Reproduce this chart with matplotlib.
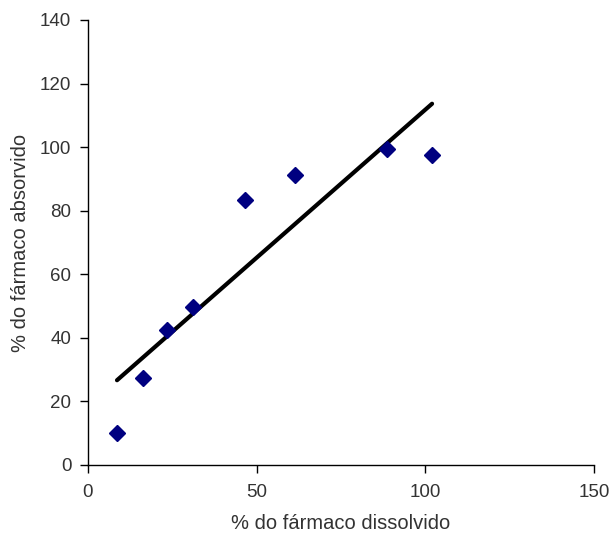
import numpy as np
import matplotlib.pyplot as plt

plt.rcParams['font.family'] = ['Liberation Sans', 'DejaVu Sans']

dissolvido = [8.6, 16.3, 23.4, 31.1, 46.5, 61.4, 88.6, 102.0]
absorvido = [10.1, 27.4, 42.5, 49.7, 83.4, 91.2, 99.4, 97.5]

XTICKS = [0, 50, 100, 150]
YTICKS = [0, 20, 40, 60, 80, 100, 120, 140]
TXT = '#333333'


def main():
    x = np.array(dissolvido)
    y = np.array(absorvido)
    slope, intercept = np.polyfit(x, y, 1)
    xl = np.array([x.min(), x.max()])

    fig = plt.figure(figsize=(6.14, 5.39), dpi=100)
    ax = fig.add_axes([0.1433, 0.1373, 0.8241, 0.8256])

    ax.plot(xl, slope * xl + intercept, color='black', lw=3, solid_capstyle='round', zorder=2)
    ax.plot(x, y, ls='none', marker='D', ms=8.5, color='#000080', mec='#000080', zorder=3)

    ax.set_xlim(0, 150)
    ax.set_ylim(0, 140)
    ax.set_xticks(XTICKS)
    ax.set_yticks(YTICKS)
    ax.spines['top'].set_visible(False)
    ax.spines['right'].set_visible(False)
    for s in ('left', 'bottom'):
        ax.spines[s].set_color('black')
        ax.spines[s].set_linewidth(1)
    ax.tick_params(direction='out', length=6, width=1, labelsize=13.5, colors='black',
                   labelcolor=TXT)
    ax.tick_params(axis='x', pad=8)
    ax.tick_params(axis='y', pad=6)
    ax.set_xlabel('% do fármaco dissolvido', fontsize=14.5, color=TXT, labelpad=9)
    ax.set_ylabel('% do fármaco absorvido', fontsize=14.5, color=TXT, labelpad=7)

    fig.savefig('out.png', dpi=100)


if __name__ == "__main__":
    main()
